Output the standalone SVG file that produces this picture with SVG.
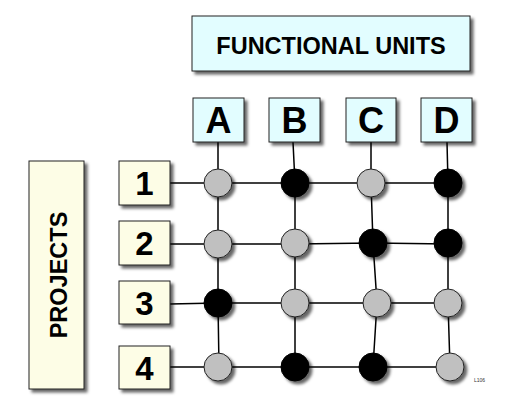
<svg xmlns="http://www.w3.org/2000/svg" width="521" height="406" viewBox="0 0 521 406">
<defs>
<filter id="sh" x="-20%" y="-20%" width="150%" height="150%">
<feDropShadow dx="3" dy="3" stdDeviation="1.6" flood-color="#000" flood-opacity="0.6"/>
</filter>
<style>
.fu{fill:#e2fdff;stroke:#222;stroke-width:1;filter:url(#sh)}
.pj{fill:#fdfde6;stroke:#222;stroke-width:1;filter:url(#sh)}
.t{font-family:"Liberation Sans",Arial,sans-serif;font-weight:bold;fill:#000;text-anchor:middle}
.ln{fill:none;stroke:#000;stroke-width:1.5}
.g{fill:#c0c0c0;stroke:#222;stroke-width:1;filter:url(#sh)}
.b{fill:#000;stroke:#000;stroke-width:1;filter:url(#sh)}
</style>
</defs>
<rect width="521" height="406" fill="#fff"/>
<g id="connectors">
<polyline class="ln" points="170,183 218,183 295,183 371,183 448,183"/>
<polyline class="ln" points="170,244 218,244 295,244 373,243 448,244"/>
<polyline class="ln" points="170,304 218,303 295,303 377,303 448,303"/>
<polyline class="ln" points="170,367 218,367 295,367 373,367 450,367"/>
<polyline class="ln" points="218,142 218,183 218,244 218,303 219,367"/>
<polyline class="ln" points="293,142 295,183 295,244 295,303 295,367"/>
<polyline class="ln" points="371,142 371,183 373,243 377,303 373,367"/>
<polyline class="ln" points="447,142 448,183 448,244 448,303 450,367"/>
</g>
<g id="functional-units">
<rect class="fu" x="192" y="16" width="278" height="55"/>
<text class="t" x="331" y="54" font-size="23.5">FUNCTIONAL UNITS</text>
</g>
<g id="unit-A"><rect class="fu" x="193" y="98" width="51" height="44"/><text class="t" x="218.5" y="133" font-size="36">A</text></g>
<g id="unit-B"><rect class="fu" x="269" y="98" width="51" height="44"/><text class="t" x="294.5" y="133" font-size="36">B</text></g>
<g id="unit-C"><rect class="fu" x="346" y="98" width="50" height="44"/><text class="t" x="371" y="133" font-size="36">C</text></g>
<g id="unit-D"><rect class="fu" x="421" y="98" width="51" height="44"/><text class="t" x="446.5" y="133" font-size="36">D</text></g>
<g id="projects">
<rect class="pj" x="29" y="161" width="55" height="228"/>
<text class="t" transform="translate(67,275) rotate(-90)" font-size="23.5">PROJECTS</text>
</g>
<g id="project-1"><rect class="pj" x="119" y="161" width="51" height="44"/><text class="t" x="144.5" y="195" font-size="33">1</text></g>
<g id="project-2"><rect class="pj" x="119" y="221" width="51" height="44"/><text class="t" x="144.5" y="255" font-size="33">2</text></g>
<g id="project-3"><rect class="pj" x="119" y="281" width="51" height="43"/><text class="t" x="144.5" y="315" font-size="33">3</text></g>
<g id="project-4"><rect class="pj" x="119" y="346" width="51" height="43"/><text class="t" x="144.5" y="380" font-size="33">4</text></g>
<g id="nodes">
<circle id="A1" class="g" cx="218" cy="183" r="14"/>
<circle id="B1" class="b" cx="295" cy="183" r="14"/>
<circle id="C1" class="g" cx="371" cy="183" r="14"/>
<circle id="D1" class="b" cx="448" cy="183" r="14"/>
<circle id="A2" class="g" cx="218" cy="244" r="14"/>
<circle id="B2" class="g" cx="295" cy="243" r="14"/>
<circle id="C2" class="b" cx="373" cy="243" r="14"/>
<circle id="D2" class="b" cx="448" cy="243" r="14"/>
<circle id="A3" class="b" cx="218" cy="303" r="14"/>
<circle id="B3" class="g" cx="295" cy="303" r="14"/>
<circle id="C3" class="g" cx="377" cy="303" r="14"/>
<circle id="D3" class="g" cx="448" cy="303" r="14"/>
<circle id="A4" class="g" cx="218" cy="367" r="14"/>
<circle id="B4" class="b" cx="295" cy="367" r="14"/>
<circle id="C4" class="b" cx="373" cy="367" r="14"/>
<circle id="D4" class="g" cx="450" cy="367" r="14"/>
</g>
<text x="474" y="382" font-family="Liberation Sans,Arial,sans-serif" font-size="5" fill="#333">L106</text>
</svg>
